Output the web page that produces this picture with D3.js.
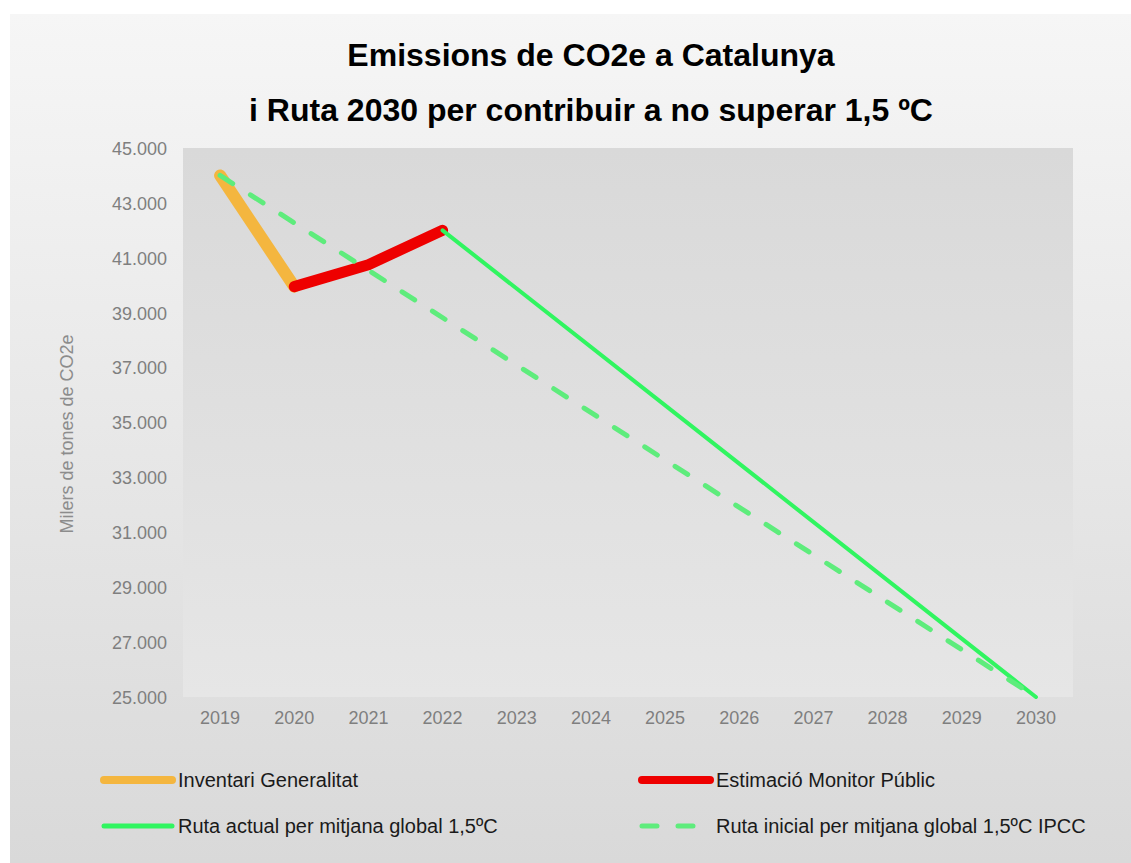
<!DOCTYPE html>
<html>
<head>
<meta charset="utf-8">
<script src="https://cdn.jsdelivr.net/npm/d3@7"></script>
<style>
  body { margin: 0; background: #fff; }
  text { font-family: "Liberation Sans", Arial, sans-serif; }
</style>
</head>
<body>
<script>
// years on the x axis
var years = ["2019", "2020", "2021", "2022", "2023", "2024", "2025", "2026", "2027", "2028", "2029", "2030"];
// series values (thousands of tonnes), null = no point
var inventari = [44000, 39950, null, null, null, null, null, null, null, null, null, null];
var estimacio = [null, 39950, 40750, 42000, null, null, null, null, null, null, null, null];
var rutaActual = [null, null, null, 42000, null, null, null, null, null, null, null, 25000];
var rutaInicial = [44000, null, null, null, null, null, null, null, null, null, null, 25000];
var yTicks = [25000, 27000, 29000, 31000, 33000, 35000, 37000, 39000, 41000, 43000, 45000];

var W = 1131, H = 863;
var plot = { left: 183, top: 148, right: 1073, bottom: 697 };

var svg = d3.select("body").append("svg")
    .attr("width", W)
    .attr("height", H);

var defs = svg.append("defs");
var g1 = defs.append("linearGradient").attr("id", "bgOuter")
    .attr("x1", 0).attr("y1", 0).attr("x2", 0).attr("y2", 1);
g1.append("stop").attr("offset", "0%").attr("stop-color", "#f6f6f6");
g1.append("stop").attr("offset", "100%").attr("stop-color", "#d9d9d9");
var g2 = defs.append("linearGradient").attr("id", "bgPlot")
    .attr("x1", 0).attr("y1", 0).attr("x2", 0).attr("y2", 1);
g2.append("stop").attr("offset", "0%").attr("stop-color", "#d9d9d9");
g2.append("stop").attr("offset", "100%").attr("stop-color", "#e6e6e6");

svg.append("rect")
    .attr("x", 10).attr("y", 14)
    .attr("width", W - 10).attr("height", H - 14)
    .attr("fill", "url(#bgOuter)");

svg.append("rect")
    .attr("x", plot.left).attr("y", plot.top)
    .attr("width", plot.right - plot.left).attr("height", plot.bottom - plot.top)
    .attr("fill", "url(#bgPlot)");

// title
svg.append("text")
    .attr("x", 591).attr("y", 66)
    .attr("text-anchor", "middle")
    .style("font-size", "32px").style("font-weight", "bold")
    .text("Emissions de CO2e a Catalunya");
svg.append("text")
    .attr("x", 591).attr("y", 121)
    .attr("text-anchor", "middle")
    .style("font-size", "32px").style("font-weight", "bold")
    .text("i Ruta 2030 per contribuir a no superar 1,5 ºC");

var x = d3.scaleBand()
    .domain(years)
    .range([plot.left, plot.right]);

var y = d3.scaleLinear()
    .domain([25000, 45000])
    .range([plot.bottom, plot.top]);

var fmt = function (d) { return d3.format(",")(d).replace(/,/g, "."); };

var yAxis = svg.append("g")
    .attr("transform", "translate(" + (plot.left - 16) + ",0)")
    .call(d3.axisLeft(y).tickValues(yTicks).tickSize(0).tickFormat(fmt));
yAxis.select(".domain").remove();
yAxis.selectAll("text")
    .attr("x", 0)
    .attr("dy", "0.35em")
    .style("font-size", "18px")
    .style("fill", "#7f7f7f")
    .style("font-family", "Liberation Sans, Arial, sans-serif");

var xAxis = svg.append("g")
    .attr("transform", "translate(0," + plot.bottom + ")")
    .call(d3.axisBottom(x).tickSize(0));
xAxis.select(".domain").remove();
xAxis.selectAll("text")
    .attr("y", 14)
    .attr("dy", "0.71em")
    .style("font-size", "18px")
    .style("fill", "#7f7f7f")
    .style("font-family", "Liberation Sans, Arial, sans-serif");

svg.append("text")
    .attr("transform", "translate(73,434) rotate(-90)")
    .attr("text-anchor", "middle")
    .style("font-size", "18px")
    .style("fill", "#8c8c8c")
    .text("Milers de tones de CO2e");

var line = d3.line()
    .x(function (d) { return x(d.year) + x.bandwidth() / 2; })
    .y(function (d) { return y(d.value); });

function pts(values) {
    return years.map(function (yr, i) { return { year: yr, value: values[i] }; })
        .filter(function (d) { return d.value != null; });
}

var series = [
    { name: "Inventari Generalitat", values: inventari, color: "#f4b63f", width: 12, dash: null },
    { name: "Estimació Monitor Públic", values: estimacio, color: "#ee0000", width: 11, dash: null },
    { name: "Ruta actual per mitjana global 1,5ºC", values: rutaActual, color: "#30f560", width: 4, dash: null },
    { name: "Ruta inicial per mitjana global 1,5ºC IPCC", values: rutaInicial, color: "#5eec7c", width: 5, dash: "15,21" }
];

series.forEach(function (s) {
    svg.append("path")
        .datum(pts(s.values))
        .attr("d", line)
        .attr("fill", "none")
        .attr("stroke", s.color)
        .attr("stroke-width", s.width)
        .attr("stroke-linecap", "round")
        .attr("stroke-linejoin", "round")
        .attr("stroke-dasharray", s.dash);
});

// legend
var legendPos = [
    { x: 104, y: 780 },
    { x: 642, y: 780 },
    { x: 104, y: 826 },
    { x: 642, y: 826 }
];
series.forEach(function (s, i) {
    var p = legendPos[i];
    var lg = svg.append("g").attr("transform", "translate(" + p.x + "," + p.y + ")");
    lg.append("line")
        .attr("x1", 0).attr("x2", 68)
        .attr("y1", 0).attr("y2", 0)
        .attr("stroke", s.color)
        .attr("stroke-width", s.width >= 10 ? 8 : 5)
        .attr("stroke-linecap", "round")
        .attr("stroke-dasharray", s.dash ? "15,21" : null);
    lg.append("text")
        .attr("x", 74).attr("y", 0)
        .attr("dy", "0.35em")
        .style("font-size", "20px")
        .style("fill", "#1a1a1a")
        .text(s.name);
});
</script>
</body>
</html>
